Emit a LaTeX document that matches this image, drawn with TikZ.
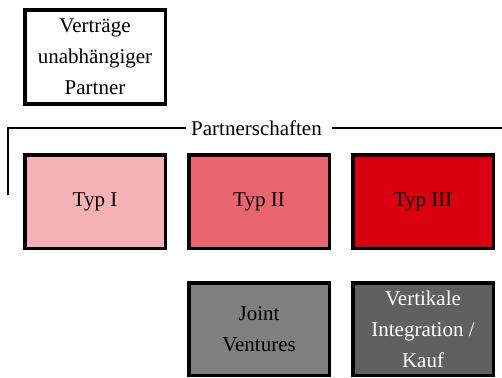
\documentclass[tikz,border=0pt]{standalone}
\usepackage{fontspec}
\setmainfont{Liberation Serif}
\definecolor{typone}{HTML}{F4B1B6}
\definecolor{typtwo}{HTML}{E96570}
\definecolor{typthree}{HTML}{D90010}
\definecolor{jvgray}{HTML}{808080}
\definecolor{vigray}{HTML}{606060}
\begin{document}
\begin{tikzpicture}[x=1pt,y=-1pt,
  box/.style={draw=black,line width=3.5pt,minimum width=140.5pt,minimum height=93.5pt,
    inner sep=0pt,align=center,font=\fontsize{21}{31}\selectfont},
  bracket/.style={line width=1.5pt}]
\useasboundingbox (0,0) rectangle (502,377);
\node[box,fill=white] (vup) at (95,57) {Verträge\\unabhängiger\\Partner};
\node[box,fill=typone] (t1) at (95,201.5) {Typ I};
\node[box,fill=typtwo] (t2) at (259,201.5) {Typ II};
\node[box,fill=typthree] (t3) at (423,201.5) {Typ III};
\node[box,fill=jvgray,minimum height=92.5pt] (jv) at (259,329) {Joint\\Ventures};
\node[box,fill=vigray,text=white,minimum height=92.5pt] (vi) at (423,329) {Vertikale\\Integration /\\Kauf};
\node[font=\fontsize{21}{31}\selectfont,inner sep=0pt] (ps) at (256.5,128) {Partnerschaften};
\coordinate (lb) at (8,195);
\coordinate (lc) at (8,128);
\coordinate (rr) at (502,128);
\draw[bracket] (lb) -- (lc) -- ([xshift=-5pt]ps.west |- lc);
\draw[bracket] ([xshift=10pt]ps.east |- lc) -- (rr);
\end{tikzpicture}
\end{document}
